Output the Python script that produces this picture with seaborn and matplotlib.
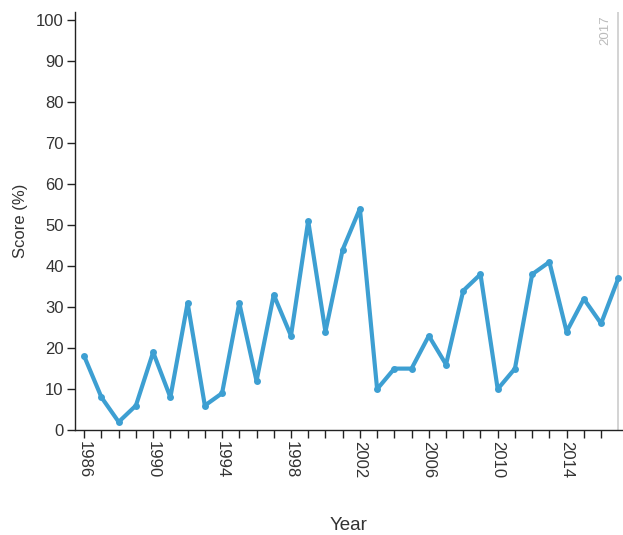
import pandas as pd
import seaborn as sns
import matplotlib.pyplot as plt

# Data
years = list(range(1986, 2018))
scores = [18, 8, 2, 6, 19, 8, 31, 6, 9, 31, 12, 33, 23, 51, 24, 44,
          54, 10, 15, 15, 23, 16, 34, 38, 10, 15, 38, 41, 24, 32, 26, 37]
tick_years = list(range(1986, 2017, 4))
marker_year = 2017

df = pd.DataFrame({"Year": years, "Score": scores})

sns.set_theme(style="white")
plt.rcParams["font.family"] = ["Liberation Sans", "DejaVu Sans"]

fig = plt.figure(figsize=(6.23, 5.35), dpi=100)
ax = fig.add_axes([0.12, 0.196, 0.878, 0.782])

sns.lineplot(data=df, x="Year", y="Score", ax=ax, color="#3d9fd2",
             linewidth=3, marker="o", markersize=5, markeredgewidth=0)

# Reference line for the last year
ax.axvline(marker_year, color="#cccccc", linewidth=1.2, zorder=0)
ax.text(marker_year - 0.4, 101, str(marker_year), rotation=90, ha="right",
        va="top", color="#bbbbbb", fontsize=9.5)

ax.set_xlim(1985.45, marker_year + 0.2)
ax.set_ylim(0, 102)
ax.set_yticks(range(0, 101, 10))
ax.set_xticks(years[:-1], minor=True)
ax.set_xticks(tick_years)
ax.set_xticklabels([str(y) for y in tick_years], rotation=270, va="top")

ax.tick_params(axis="both", which="both", direction="out", length=6,
               width=1, color="#222222", labelsize=12, labelcolor="#333333",
               bottom=True, left=True, pad=2)
for side in ["top", "right"]:
    ax.spines[side].set_visible(False)
for side in ["left", "bottom"]:
    ax.spines[side].set_color("#222222")
    ax.spines[side].set_linewidth(1)

ax.set_xlabel("Year", fontsize=13.5, color="#333333", labelpad=28)
ax.set_ylabel("Score (%)", fontsize=12, color="#333333", labelpad=6)

plt.savefig("out.png", dpi=100)
